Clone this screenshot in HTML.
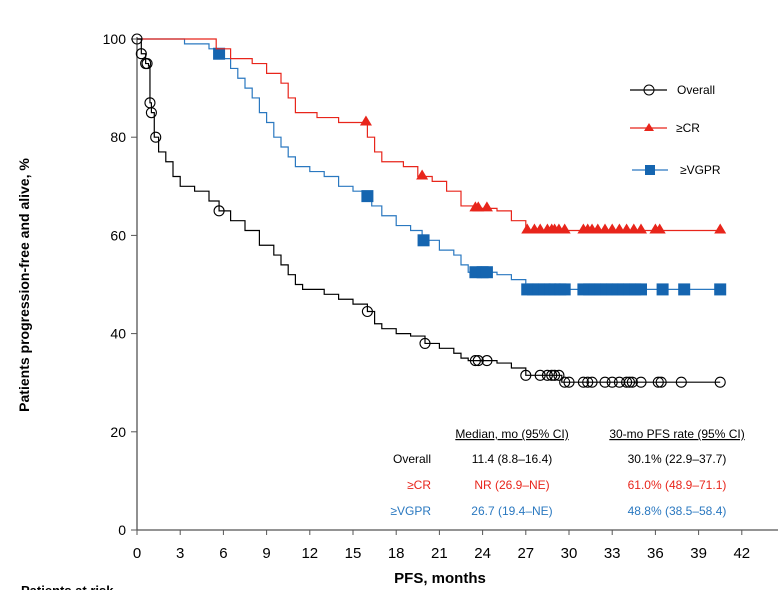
<!DOCTYPE html>
<html><head><meta charset="utf-8"><style>
body{margin:0;background:#fff;}
svg{display:block;font-family:"Liberation Sans",sans-serif;}
</style></head><body>
<svg id="c" width="784" height="590" viewBox="0 0 784 590">
<text x="0" y="0" transform="translate(29,285) rotate(-90)" text-anchor="middle" font-size="14" font-weight="bold">Patients progression-free and alive, %</text>
<text x="440" y="583" text-anchor="middle" font-size="15" font-weight="bold">PFS, months</text>
<text x="21" y="595" font-size="13" font-weight="bold">Patients at risk</text>
<g id="axes"></g>
<g id="series"></g>
<g font-size="12">
 <g><line x1="630" y1="90" x2="667" y2="90" stroke="#000" stroke-width="1.2"/><circle cx="649" cy="90" r="5" fill="none" stroke="#000"/><text x="677" y="94">Overall</text></g>
 <g><line x1="630" y1="128" x2="667" y2="128" stroke="#e8251b" stroke-width="1.2"/><path d="M649,123 L654,131 L644,131Z" fill="#e8251b"/><text x="676" y="132" fill="#000">≥CR</text></g>
 <g><line x1="632" y1="170" x2="668" y2="170" stroke="#2a78c0" stroke-width="1.2"/><rect x="645" y="165" width="10" height="10" fill="#1565b0"/><text x="680" y="174">≥VGPR</text></g>
</g>
<g font-size="12" text-anchor="middle">
 <text x="512" y="438" text-decoration="underline">Median, mo (95% CI)</text>
 <text x="677" y="438" text-decoration="underline">30-mo PFS rate (95% CI)</text>
 <text x="431" y="463" text-anchor="end">Overall</text>
 <text x="512" y="463">11.4 (8.8–16.4)</text>
 <text x="677" y="463">30.1% (22.9–37.7)</text>
 <text x="431" y="489" text-anchor="end" fill="#e8251b">≥CR</text>
 <text x="512" y="489" fill="#e8251b">NR (26.9–NE)</text>
 <text x="677" y="489" fill="#e8251b">61.0% (48.9–71.1)</text>
 <text x="431" y="515" text-anchor="end" fill="#2a78c0">≥VGPR</text>
 <text x="512" y="515" fill="#2a78c0">26.7 (19.4–NE)</text>
 <text x="677" y="515" fill="#2a78c0">48.8% (38.5–58.4)</text>
</g>
</svg>
<script>
const xTicks=[0,3,6,9,12,15,18,21,24,27,30,33,36,39,42];
const yTicks=[0,20,40,60,80,100];
const overallT=[0,0.3,0.6,0.8,0.9,1.0,1.2,1.5,2,2.5,3,4,5,5.7,6.5,7.5,8.5,9.5,10,10.5,11,11.5,13,14,15,16,16.5,17,18,19,20,21,22,22.5,23,25,26,27,29.5,40.5];
const overallS=[100,97,95,94.5,87,85,80,77,75,72,70,69,67,65,63,61,58,56,54,52,50,49,48,47,46,44.5,42,41,40,39.5,38,37,36,35,34.5,34,33,31.5,30.1,30.1];
const overallCT=[0,0.3,0.6,0.7,0.9,1.0,1.3,5.7,16,20,23.5,23.7,24.3,27,28,28.5,28.8,29,29.3,29.7,30,31,31.3,31.6,32.5,33,33.5,34,34.2,34.4,35,36.2,36.4,37.8,40.5];
const crT=[0,5.5,6.5,8,9,10,10.5,11,12.5,14,16,16.5,17,18.5,19.5,20.5,21.5,22.5,23.5,25,26,27,40.5];
const crS=[100,98,96,95,93,91,88,85,84,83,80,77,75,74,72,71,69,66,65.5,65,63,61,61];
const crCT=[15.9,19.8,23.5,23.7,24.3,27.1,27.6,28,28.5,28.8,29,29.3,29.7,31,31.3,31.6,32,32.5,33,33.5,34,34.5,35,36,36.3,40.5];
const vgT=[0,3.3,5,5.5,6,6.5,7,7.5,8,8.5,9,9.5,10,10.5,11,12,13,14,15,16,16.3,17,18,19,19.8,21,22,22.5,23,25,26,27,40.5];
const vgS=[100,99,98,97,96,94,92,90,88,85,83,80,78,76,74,73,72,70,69,68,66,64,62,61,59,57,56,54,52.5,52,51,49,49];
const vgCT=[5.7,16,19.9,23.5,24,24.3,27.1,27.5,27.9,28.3,28.7,29,29.4,29.7,31,31.4,31.8,32.2,32.6,33,33.4,33.8,34.2,34.6,35,36.5,38,40.5];

const X=t=>137+t*14.4, Y=v=>530-v*4.91;
const NS='http://www.w3.org/2000/svg';
function mk(tag,attrs,parent){const e=document.createElementNS(NS,tag);for(const k in attrs)e.setAttribute(k,attrs[k]);parent.appendChild(e);return e;}
const axes=document.getElementById('axes'), ser=document.getElementById('series');
const xa=mk('line',{x1:137,y1:530,x2:778,y2:530,stroke:'#555','stroke-width':1.3},axes);


const ya=mk('line',{x1:137,y1:37,x2:137,y2:530,stroke:'#555','stroke-width':1.3},axes);


xTicks.forEach(t=>{
 mk('line',{x1:X(t),y1:530,x2:X(t),y2:535,stroke:'#555'},axes);
 const tx=mk('text',{x:X(t),y:558,'text-anchor':'middle','font-size':15},axes);tx.textContent=t;
 
 
});
yTicks.forEach(v=>{
 mk('line',{x1:131,y1:Y(v),x2:137,y2:Y(v),stroke:'#555'},axes);
 const tx=mk('text',{x:126,y:Y(v)+5,'text-anchor':'end','font-size':14},axes);tx.textContent=v;
 
 
});
function stepPath(T,S){let d='M'+X(T[0])+','+Y(S[0]);for(let i=1;i<T.length;i++){d+=' H'+X(T[i])+' V'+Y(S[i]);}return d;}
function sAt(T,S,t){let s=S[0];for(let i=0;i<T.length;i++){if(T[i]<=t)s=S[i];}return s;}
function series(name,T,S,CT,color,marker){
 const g=mk('g',{},ser);
 
 
 const p=mk('path',{d:stepPath(T,S),fill:'none',stroke:color,'stroke-width':1.2},g);
 
 
 CT.forEach(t=>{
  const x=X(t),y=Y(sAt(T,S,t));let m;
  if(marker==='circle')m=mk('circle',{cx:x,cy:y,r:5,fill:'none',stroke:'#000','stroke-width':1.1},g);
  else if(marker==='tri')m=mk('path',{d:`M${x},${y-7} L${x+6},${y+3} L${x-6},${y+3}Z`,fill:'#e8251b'},g);
  else m=mk('rect',{x:x-6,y:y-6,width:12,height:12,fill:'#1565b0'},g);
  
  
 });
}
series('vgpr',vgT,vgS,vgCT,'#2a78c0','sq');
series('cr',crT,crS,crCT,'#e8251b','tri');
series('overall',overallT,overallS,overallCT,'#000','circle');
</script>
</body></html>
